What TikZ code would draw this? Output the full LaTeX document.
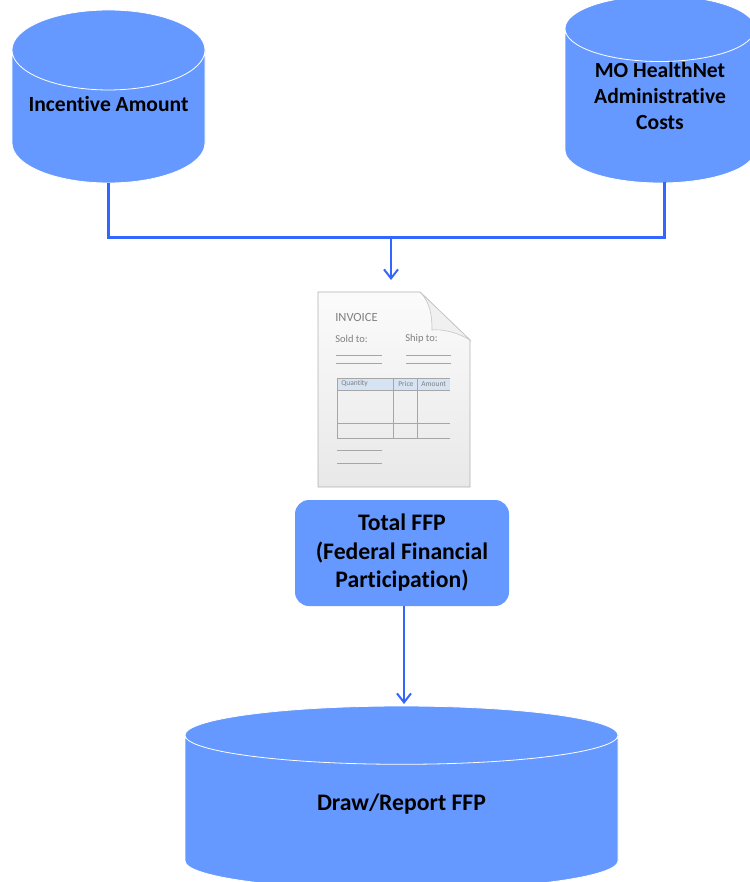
\documentclass[tikz,border=0pt]{standalone}
\usepackage{fontspec}
\setmainfont{Carlito}[Ligatures=NoCommon]
\usepackage{xcolor}
\usetikzlibrary{arrows,arrows.meta,positioning,shapes,shapes.geometric,calc}
\definecolor{storeblue}{HTML}{6699FF}
\definecolor{linkblue}{HTML}{3366FF}
\definecolor{formhead}{HTML}{D6E3F3}
\begin{document}
\begin{tikzpicture}[
            x = 1pt,
            y = -1pt,
            semithick
        ]

        \tikzstyle{store}=[
            shape = cylinder,
            shape border rotate = 90,
            shape aspect = 0.5,
            anchor = south,
            draw = white,
            line width = 0.8pt,
            fill = storeblue,
            font = \fontsize{21.6}{26}\selectfont\bfseries,
            align = center,
            inner sep = 0pt,
            outer sep = 0pt
        ]
        \tikzstyle{total}=[
            rectangle,
            rounded corners = 14pt,
            fill = storeblue,
            minimum width = 214pt,
            minimum height = 106pt,
            font = \fontsize{23.7}{28.5}\selectfont\bfseries,
            align = center
        ]
        \tikzstyle{link}=[draw = linkblue, line width = 3pt]
        \tikzstyle{flow}=[-{Straight Barb[length=9pt,width=14pt,line width=2pt]}, draw = linkblue, line width = 2pt]
        \tikzstyle{formline}=[draw = gray!70, line width = 0.7pt]
        \tikzstyle{formtext}=[font = \fontsize{10.5}{10.5}\selectfont, text = gray, inner sep = 0pt]

        \useasboundingbox (0,0) rectangle (749,882);

        % Stores
        \node[store, minimum width = 193pt, minimum height = 173pt, text depth = 26pt] (incentive) [at={(108.5,183)}] {Incentive Amount};
        \node[store, minimum width = 190pt, minimum height = 173pt, text depth = 21pt] (costs) [at={(660,183)}] {MO HealthNet\\Administrative\\Costs};
        \node[store, minimum width = 433pt, minimum height = 184pt, shape aspect = 0.345, text depth = 21pt, font = \fontsize{23.7}{28.5}\selectfont\bfseries] (draw) [at={(401.5,890)}] {Draw/Report FFP};
        \node[total] (ffp) [at={(402,553)}] {Total FFP\\(Federal Financial\\Participation)};

        % Invoice
        \coordinate (nw) at (318,292);
        \coordinate (fold) at (420,292);
        \coordinate (ear) at (470,340);
        \coordinate (se) at (470,487);
        \coordinate (sw) at (318,487);
        \coordinate (crease) at (432,330);
        \draw[top color = gray!3, bottom color = gray!18, draw = gray!60, line width = 0.8pt]
            (nw) -- (fold) -- (ear) -- (se) -- (sw) -- cycle;
        \fill[gray!12, draw = gray!45, line width = 0.6pt] (fold) -- (ear) .. controls (455,331) and (440,329) .. (crease) .. controls (432,318) and (431,303) .. cycle;
        \node[formtext, anchor = west, font = \fontsize{12.5}{12.5}\selectfont] (title) [at={(335,317)}] {INVOICE};
        \node[formtext, anchor = west] (sold) [at={(335,339)}] {Sold to:};
        \node[formtext, anchor = west] (ship) [at={(405,339)}] {Ship to:};
        \foreach \y in {355,363} {
            \draw[formline] (336,\y) -- (382,\y);
            \draw[formline] (406,\y) -- (451,\y);
        }
        \fill[formhead] (337,378) rectangle (450,390);
        \draw[formline] (337,378) -- (450,378);
        \draw[formline] (337,390) -- (450,390);
        \draw[formline] (337,423) -- (450,423);
        \draw[formline] (337,438) -- (450,438);
        \draw[formline] (337,378) -- (337,438);
        \draw[formline] (393,378) -- (393,438);
        \draw[formline] (417,378) -- (417,438);
        \node[formtext, anchor = west, font = \fontsize{7.5}{7.5}\selectfont] (qty) [at={(341,384)}] {Quantity};
        \node[formtext, anchor = west, font = \fontsize{7.5}{7.5}\selectfont] (price) [at={(398,384)}] {Price};
        \node[formtext, anchor = west, font = \fontsize{7.5}{7.5}\selectfont] (amount) [at={(421,384)}] {Amount};
        \draw[formline] (337,450) -- (382,450);
        \draw[formline] (337,463) -- (382,463);

        % Links
        \coordinate (joint) at (391,238);
        \coordinate (formtop) at (391,280);
        \coordinate (costsout) at (664,182);
        \coordinate (ffpout) at (404,606);
        \coordinate (drawin) at (404,704);
        \draw[link, line join = miter] (incentive.south) |- (joint) -| (costsout);
        \draw[flow] (joint) -- (formtop);
        \draw[flow] (ffpout) -- (drawin);
      \end{tikzpicture}
\end{document}
